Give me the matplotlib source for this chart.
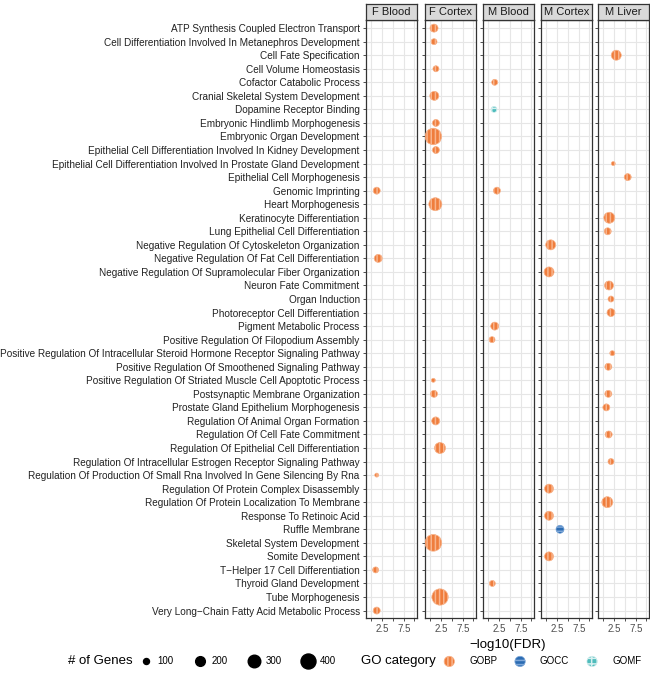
import numpy as np
import matplotlib.pyplot as plt
from matplotlib.lines import Line2D

plt.rcParams['font.family'] = ['Liberation Sans', 'DejaVu Sans']
plt.rcParams['hatch.linewidth'] = 1.1

# y-axis terms, top to bottom
TERMS = [
    "ATP Synthesis Coupled Electron Transport",
    "Cell Differentiation Involved In Metanephros Development",
    "Cell Fate Specification",
    "Cell Volume Homeostasis",
    "Cofactor Catabolic Process",
    "Cranial Skeletal System Development",
    "Dopamine Receptor Binding",
    "Embryonic Hindlimb Morphogenesis",
    "Embryonic Organ Development",
    "Epithelial Cell Differentiation Involved In Kidney Development",
    "Epithelial Cell Differentiation Involved In Prostate Gland Development",
    "Epithelial Cell Morphogenesis",
    "Genomic Imprinting",
    "Heart Morphogenesis",
    "Keratinocyte Differentiation",
    "Lung Epithelial Cell Differentiation",
    "Negative Regulation Of Cytoskeleton Organization",
    "Negative Regulation Of Fat Cell Differentiation",
    "Negative Regulation Of Supramolecular Fiber Organization",
    "Neuron Fate Commitment",
    "Organ Induction",
    "Photoreceptor Cell Differentiation",
    "Pigment Metabolic Process",
    "Positive Regulation Of Filopodium Assembly",
    "Positive Regulation Of Intracellular Steroid Hormone Receptor Signaling Pathway",
    "Positive Regulation Of Smoothened Signaling Pathway",
    "Positive Regulation Of Striated Muscle Cell Apoptotic Process",
    "Postsynaptic Membrane Organization",
    "Prostate Gland Epithelium Morphogenesis",
    "Regulation Of Animal Organ Formation",
    "Regulation Of Cell Fate Commitment",
    "Regulation Of Epithelial Cell Differentiation",
    "Regulation Of Intracellular Estrogen Receptor Signaling Pathway",
    "Regulation Of Production Of Small Rna Involved In Gene Silencing By Rna",
    "Regulation Of Protein Complex Disassembly",
    "Regulation Of Protein Localization To Membrane",
    "Response To Retinoic Acid",
    "Ruffle Membrane",
    "Skeletal System Development",
    "Somite Development",
    "T\u2212Helper 17 Cell Differentiation",
    "Thyroid Gland Development",
    "Tube Morphogenesis",
    "Very Long\u2212Chain Fatty Acid Metabolic Process",
]

PANELS = ["F Blood", "F Cortex", "M Blood", "M Cortex", "M Liver"]

# one entry per point (term index into TERMS)
pt_panel = (["F Blood"] * 5 + ["F Cortex"] * 14 + ["M Blood"] * 6
            + ["M Cortex"] * 6 + ["M Liver"] * 15)
pt_term = [12, 17, 33, 40, 43,
           0, 1, 3, 5, 7, 8, 9, 13, 26, 27, 29, 31, 38, 42,
           4, 6, 12, 22, 23, 41,
           16, 18, 34, 36, 37, 39,
           2, 10, 11, 14, 15, 19, 20, 21, 24, 25, 27, 28, 30, 32, 35]
pt_logfdr = [1.25, 1.6, 1.25, 1.0, 1.25,
             0.86, 0.86, 1.3, 0.93, 1.3, 0.7, 1.3, 1.16, 0.7, 0.86, 1.25, 2.25, 0.7, 2.25,
             1.48, 1.32, 2.0, 1.48, 0.86, 0.93,
             1.02, 0.63, 0.63, 0.63, 3.17, 0.63,
             3.0, 2.3, 5.65, 1.39, 1.02, 1.32, 1.78, 1.78, 2.08, 1.16, 1.16, 0.7, 1.25, 1.78, 0.93]
pt_genes = [123, 149, 60, 100, 123,
            150, 100, 100, 178, 123, 470, 123, 316, 60, 123, 150, 242, 480, 460,
            100, 100, 123, 149, 100, 100,
            209, 209, 178, 178, 149, 178,
            209, 60, 123, 242, 123, 178, 100, 149, 79, 123, 123, 123, 123, 100, 242]
pt_cat = (["GOBP"] * 19 + ["GOBP", "GOMF", "GOBP", "GOBP", "GOBP", "GOBP"]
          + ["GOBP"] * 4 + ["GOCC", "GOBP"] + ["GOBP"] * 15)

GENE_BREAKS = [100, 200, 300, 400]
CAT_NAMES = ["GOBP", "GOCC", "GOMF"]
CAT_FILL = {"GOBP": "#EF7D3C", "GOCC": "#2B6CB3", "GOMF": "#4FBCBC"}
CAT_HATCH_COLOR = {"GOBP": "#F8B48C", "GOCC": "#7FA8D8", "GOMF": "#D8F0F0"}
CAT_HATCH = {"GOBP": "||||", "GOCC": "----", "GOMF": "+++"}


def gene_size(g):
    # marker area in pt^2 (diameter grows with sqrt of gene count)
    d_px = -3 + 0.9 * np.sqrt(np.asarray(g, dtype=float))
    return (d_px * 0.72) ** 2


W, H = 650, 673
fig = plt.figure(figsize=(W / 100, H / 100), dpi=100)

panel_left = [366, 425, 483, 541, 598]
panel_w = 51
panel_top, panel_bot = 20, 618

pt_panel = np.array(pt_panel)
pt_term = np.array(pt_term)
pt_logfdr = np.array(pt_logfdr)
pt_genes = np.array(pt_genes)
pt_cat = np.array(pt_cat)

axes = []
for i, (name, L) in enumerate(zip(PANELS, panel_left)):
    ax = fig.add_axes([L / W, 1 - panel_bot / H, panel_w / W, (panel_bot - panel_top) / H])
    ax.set_xlim(-1.23, 10.58)
    ax.set_ylim(len(TERMS) - 0.45, -0.6)
    ax.set_xticks([0, 2.5, 5, 7.5, 10])
    ax.set_xticklabels(["", "2.5", "", "7.5", ""])
    ax.set_yticks(range(len(TERMS)))
    ax.grid(True, color="#E6E6E6", lw=0.8, zorder=0)
    ax.set_axisbelow(True)
    for s in ax.spines.values():
        s.set_color("#333333")
        s.set_linewidth(0.9)
    ax.tick_params(length=2.5, width=0.6, color="#333333", labelsize=7,
                   labelcolor="#4D4D4D", pad=2)
    if i == 0:
        ax.set_yticklabels(TERMS, fontsize=7.2, color="#222222")
    else:
        ax.set_yticklabels([])

    m = pt_panel == name
    for cat in CAT_NAMES:
        mm = m & (pt_cat == cat)
        if mm.any():
            ax.scatter(pt_logfdr[mm], pt_term[mm], s=gene_size(pt_genes[mm]),
                       facecolor=CAT_FILL[cat], edgecolors=CAT_HATCH_COLOR[cat],
                       linewidths=0.5, hatch=CAT_HATCH[cat], zorder=3)

    # facet strip
    sax = fig.add_axes([L / W, 1 - panel_top / H, panel_w / W, 16 / H])
    sax.set_facecolor("#D9D9D9")
    sax.set_xticks([]); sax.set_yticks([])
    for s in sax.spines.values():
        s.set_color("#333333")
        s.set_linewidth(0.9)
    sax.text(0.5, 0.5, name, ha="center", va="center", fontsize=8, color="#1A1A1A",
             transform=sax.transAxes)
    axes.append(ax)

fig.text((panel_left[0] + panel_left[-1] + panel_w) / 2 / W, 1 - 645 / H, "\u2212log10(FDR)",
         ha="center", va="center", fontsize=9.5)

# legends
size_handles = [Line2D([], [], ls="none", marker="o", color="black",
                       markersize=np.sqrt(gene_size(g))) for g in GENE_BREAKS]
leg1 = fig.legend(size_handles, [str(g) for g in GENE_BREAKS], loc="center left",
                  bbox_to_anchor=(139 / W, 1 - 661 / H), ncol=4, frameon=False,
                  fontsize=7, handlelength=1.5, handletextpad=0.4, columnspacing=2.0,
                  borderpad=0, borderaxespad=0)
fig.text(68 / W, 1 - 661 / H, "# of Genes", ha="left", va="center", fontsize=9.5)

cat_handles = [axes[0].scatter([], [], s=gene_size(220), facecolor=CAT_FILL[c],
                               edgecolors=CAT_HATCH_COLOR[c], linewidths=0.5,
                               hatch=CAT_HATCH[c]) for c in CAT_NAMES]
leg2 = fig.legend(cat_handles, CAT_NAMES, loc="center left",
                  bbox_to_anchor=(442 / W, 1 - 661 / H), ncol=3, frameon=False,
                  fontsize=7, handlelength=1.5, handletextpad=1.3, columnspacing=1.6,
                  borderpad=0, borderaxespad=0, scatterpoints=1)
for h, c in zip(leg2.legend_handles, CAT_NAMES):
    h.set_facecolor(CAT_FILL[c])
    h.set_edgecolor(CAT_HATCH_COLOR[c])
fig.text(361 / W, 1 - 661 / H, "GO category", ha="left", va="center", fontsize=9.5)

fig.savefig("out.png", dpi=100)
